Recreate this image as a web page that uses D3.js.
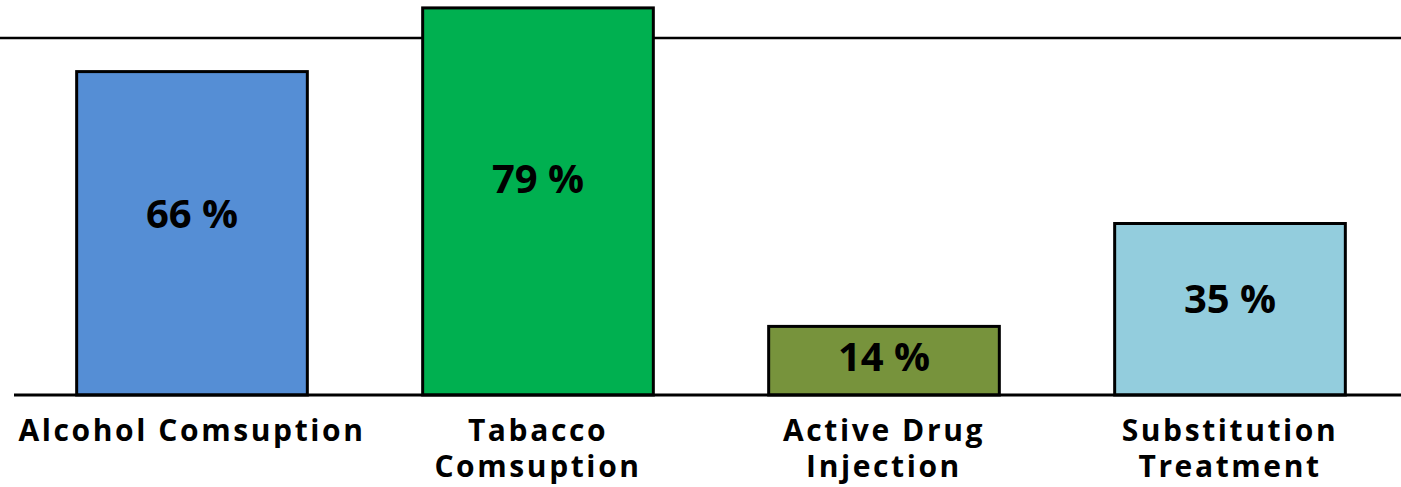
<!DOCTYPE html>
<html>
<head>
<meta charset="utf-8">
<script src="https://cdn.jsdelivr.net/npm/d3@7"></script>
<style>
  body { margin: 0; background: #fff; }
  svg text { font-family: "Open Sans", sans-serif; font-weight: bold; fill: #000; }
</style>
</head>
<body>
<svg id="chart" width="1401" height="487"></svg>
<script>
// Data
const categories = ["Alcohol Comsuption", "Tabacco Comsuption", "Active Drug Injection", "Substitution Treatment"];
const labelLines = [["Alcohol Comsuption"], ["Tabacco", "Comsuption"], ["Active Drug", "Injection"], ["Substitution", "Treatment"]];
const values = [66, 79, 14, 35];
const colors = ["#558ed5", "#00b050", "#77933c", "#93cddd"];

const width = 1401, height = 487;
const svg = d3.select("#chart");

const x = d3.scaleBand()
  .domain(categories)
  .range([19, 1403])
  .paddingInner(1 / 3)
  .paddingOuter(1 / 6);

const y = d3.scaleLinear()
  .domain([0, 80])
  .range([395, 3]);

// top frame line
svg.append("line")
  .attr("x1", 0).attr("x2", width)
  .attr("y1", 38).attr("y2", 38)
  .attr("stroke", "#000").attr("stroke-width", 2.5);

// bars
svg.selectAll(".bar")
  .data(values)
  .enter()
  .append("rect")
  .attr("class", "bar")
  .attr("x", (d, i) => x(categories[i]))
  .attr("y", (d) => y(d))
  .attr("width", x.bandwidth())
  .attr("height", (d) => y(0) - y(d))
  .attr("fill", (d, i) => colors[i])
  .attr("stroke", "#000")
  .attr("stroke-width", 3);

// baseline
svg.append("line")
  .attr("x1", 14).attr("x2", width)
  .attr("y1", y(0)).attr("y2", y(0))
  .attr("stroke", "#000").attr("stroke-width", 3);

// value labels
svg.selectAll(".val")
  .data(values)
  .enter()
  .append("text")
  .attr("class", "val")
  .attr("x", (d, i) => x(categories[i]) + x.bandwidth() / 2)
  .attr("y", (d) => y(d * 0.56))
  .attr("dy", "0.36em")
  .attr("text-anchor", "middle")
  .style("font-size", "40px")
  .text((d) => d + " %");

// category labels
const cat = svg.selectAll(".cat")
  .data(labelLines)
  .enter()
  .append("text")
  .attr("class", "cat")
  .attr("text-anchor", "middle")
  .style("font-size", "30px")
  .style("letter-spacing", "2.6px")
  .attr("transform", (d, i) => `translate(${x(categories[i]) + x.bandwidth() / 2},${y(0) + 46})`);

cat.selectAll("tspan")
  .data((d) => d)
  .enter()
  .append("tspan")
  .attr("x", 0)
  .attr("y", (d, i) => i * 36)
  .text((d) => d);
</script>
</body>
</html>
